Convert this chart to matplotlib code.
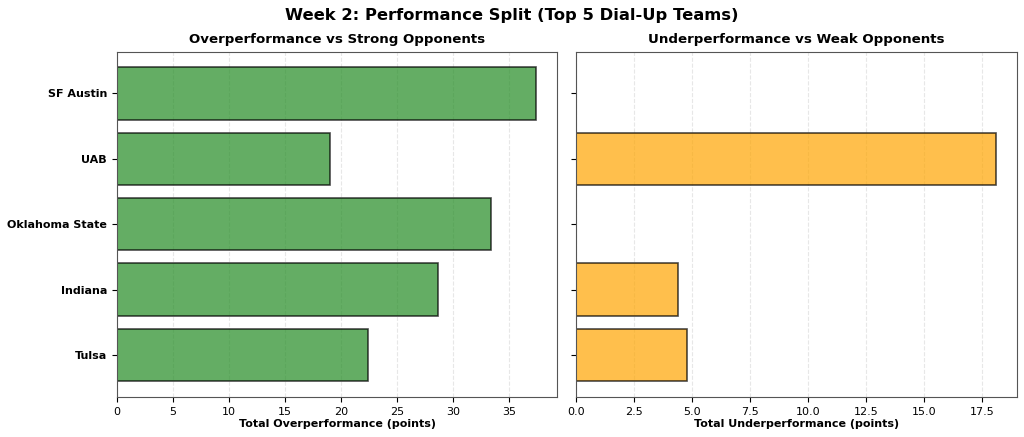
import numpy as np
import matplotlib
matplotlib.use("Agg")
import matplotlib.pyplot as plt

# Week 2 split, top 5 dial-up teams
teams = ["SF Austin", "UAB", "Oklahoma State", "Indiana", "Tulsa"]
over_strong = [37.4, 19.05, 33.4, 28.6, 22.4]
under_weak = [0.0, 18.1, 0.0, 4.37, 4.77]

y = np.arange(len(teams))

fig, (ax1, ax2) = plt.subplots(1, 2, figsize=(10.24, 4.37), dpi=100, sharey=True)
fig.subplots_adjust(left=0.114, right=0.993, top=0.882, bottom=0.092, wspace=0.043)

ax1.barh(y, over_strong, height=0.8, color="forestgreen", alpha=0.7,
         edgecolor="black", linewidth=1.2)
ax2.barh(y, under_weak, height=0.8, color="orange", alpha=0.7,
         edgecolor="black", linewidth=1.2)

ax1.set_yticks(y)
ax1.set_yticklabels(teams, fontsize=8, fontweight="bold")
ax1.invert_yaxis()

ax1.set_xlim(0, max(over_strong) * 1.05)
ax2.set_xlim(0, max(under_weak) * 1.05)

ax1.set_title("Overperformance vs Strong Opponents", fontsize=9.6, fontweight="bold")
ax2.set_title("Underperformance vs Weak Opponents", fontsize=9.6, fontweight="bold")
ax1.set_xlabel("Total Overperformance (points)", fontsize=8, fontweight="bold", labelpad=2)
ax2.set_xlabel("Total Underperformance (points)", fontsize=8, fontweight="bold", labelpad=2)

for ax in (ax1, ax2):
    ax.tick_params(axis="x", labelsize=8)
    ax.grid(axis="x", linestyle="--", alpha=0.3)
    ax.set_axisbelow(True)
    for s in ax.spines.values():
        s.set_color("#555555")

fig.suptitle("Week 2: Performance Split (Top 5 Dial-Up Teams)", fontsize=11.8,
             fontweight="bold", y=0.982)

fig.savefig("out.png", dpi=100)
